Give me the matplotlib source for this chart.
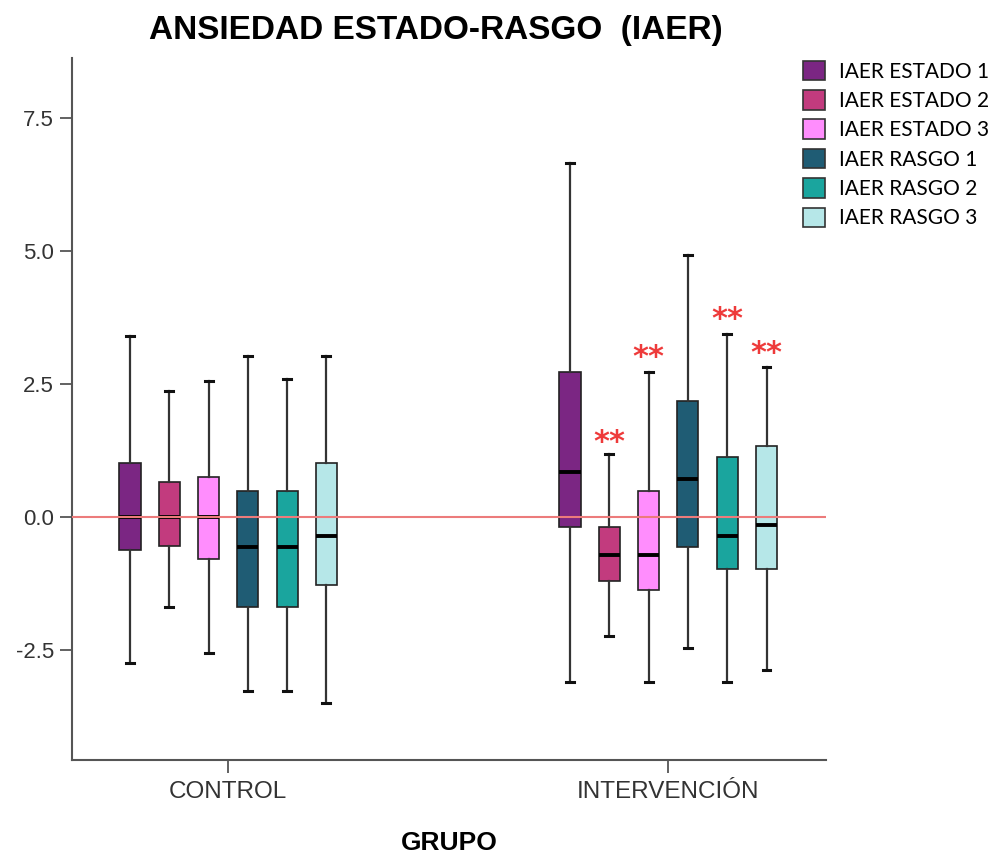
import numpy as np
import matplotlib.pyplot as plt
from matplotlib.patches import Patch

# data
grupos = ['CONTROL', 'INTERVENCIÓN']
series = ['IAER ESTADO 1', 'IAER ESTADO 2', 'IAER ESTADO 3',
          'IAER RASGO 1', 'IAER RASGO 2', 'IAER RASGO 3']
colores = ['#7b2683', '#c23b7e', '#ff8dfd', '#1f5c74', '#1aa59e', '#b6e7e8']

control_lo = [-2.74, -1.70, -2.56, -3.28, -3.28, -3.50]
control_q1 = [-0.61, -0.54, -0.78, -1.70, -1.70, -1.28]
control_med = [0.0, 0.0, 0.0, -0.56, -0.56, -0.35]
control_q3 = [1.01, 0.66, 0.76, 0.49, 0.49, 1.02]
control_hi = [3.40, 2.38, 2.56, 3.03, 2.60, 3.03]

interv_lo = [-3.10, -2.24, -3.10, -2.46, -3.10, -2.88]
interv_q1 = [-0.19, -1.21, -1.38, -0.57, -0.98, -0.98]
interv_med = [0.84, -0.71, -0.71, 0.71, -0.35, -0.15]
interv_q3 = [2.72, -0.19, 0.49, 2.19, 1.13, 1.33]
interv_hi = [6.66, 1.18, 2.73, 4.93, 3.45, 2.83]

# significance marks (intervention group)
sig_idx = [1, 2, 4, 5]
sig_y = [1.50, 3.10, 3.81, 3.17]

datos = [
    (control_lo, control_q1, control_med, control_q3, control_hi),
    (interv_lo, interv_q1, interv_med, interv_q3, interv_hi),
]

fig = plt.figure(figsize=(10.07, 8.55), dpi=100)
ax = fig.add_axes([0.0715, 0.111, 0.749, 0.821])

paso = 0.0893
ancho = 0.048
offsets = (np.arange(len(series)) - 2.5) * paso

for g, (lo, q1, med, q3, hi) in enumerate(datos):
    for i in range(len(series)):
        st = [dict(whislo=lo[i], q1=q1[i], med=med[i], q3=q3[i], whishi=hi[i], fliers=[])]
        ax.bxp(st, positions=[g + offsets[i]], widths=ancho, patch_artist=True,
               showfliers=False, capwidths=0.018,
               boxprops=dict(facecolor=colores[i], edgecolor='#222222', linewidth=1.2),
               whiskerprops=dict(color='#333333', linewidth=1.6),
               capprops=dict(color='#111111', linewidth=2.2),
               medianprops=dict(color='black', linewidth=2.8))

ax.axhline(0, color='#ec7b7b', linewidth=1.5, zorder=5)

for i, y in zip(sig_idx, sig_y):
    ax.text(1 + offsets[i], y - 0.1, '**', color='#ee3a3a', fontsize=22, fontweight='bold',
            ha='center', va='center', fontfamily='DejaVu Sans')

ax.set_xlim(-0.355, 1.359)
ax.set_ylim(-4.57, 8.63)
ax.set_xticks([0, 1])
ax.set_xticklabels(grupos)
ax.set_yticks([-2.5, 0, 2.5, 5.0, 7.5])
ax.set_yticklabels(['-2.5', '0.0', '2.5', '5.0', '7.5'])

for s in ['top', 'right']:
    ax.spines[s].set_visible(False)
for s in ['left', 'bottom']:
    ax.spines[s].set_color('#555555')
    ax.spines[s].set_linewidth(1.5)

ax.tick_params(axis='both', length=9, width=1.3, color='#555555',
               labelcolor='#333333', pad=4)
ax.tick_params(axis='y', labelsize=16)
ax.tick_params(axis='x', labelsize=17.5, pad=6)
for lab in ax.get_xticklabels() + ax.get_yticklabels():
    lab.set_fontfamily(['Liberation Sans Narrow', 'Liberation Sans'])

ax.set_xlabel('GRUPO', fontsize=19, fontweight='bold', labelpad=20,
              fontfamily=['Liberation Sans Narrow', 'Liberation Sans'])

fig.text(436 / 1007, 1 - 30 / 855, 'ANSIEDAD ESTADO-RASGO  (IAER)', ha='center', va='center',
         fontsize=24, fontweight='bold',
         fontfamily=['Liberation Sans Narrow', 'Liberation Sans'])

handles = [Patch(facecolor=c, edgecolor='#333333', linewidth=1.2) for c in colores]
fig.legend(handles, series, loc='upper left', bbox_to_anchor=(0.797, 0.929),
           frameon=False, borderpad=0, borderaxespad=0,
           handlelength=1.06, handleheight=1.06,
           handletextpad=0.7, labelspacing=0.41,
           prop=dict(family='Lato', size=15))

fig.savefig('out.png', dpi=100)
